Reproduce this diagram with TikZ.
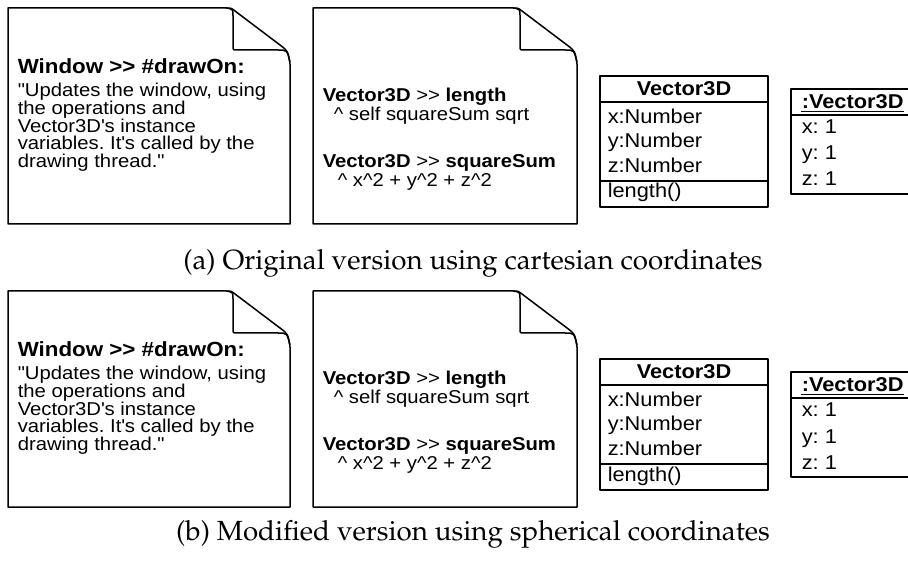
\documentclass[tikz,border=0pt]{standalone}
\usepackage[T1,TU]{fontenc}
\usepackage{fontspec}
\usepackage{tikz}
\usetikzlibrary{positioning, calc}

\newfontfamily\diafont[FakeStretch=1.09,Ligatures=TeXOff]{Liberation Sans}
\setlength{\lineskiplimit}{-10pt}
\frenchspacing

\begin{document}
\begin{tikzpicture}[x=1pt, y=-1pt, line width=1.5pt, line join=round,
        notetitle/.style={anchor=base west, inner sep=0pt,
            font=\diafont\bfseries\fontsize{20.5}{24}\selectfont},
        notetext/.style={anchor=north west, inner sep=0pt, align=left,
            font=\diafont\fontsize{18.6}{17.7}\selectfont},
        codetext/.style={notetext,
            font=\diafont\fontsize{18.6}{19}\selectfont},
        classtext/.style={anchor=base west, inner sep=0pt,
            font=\diafont\fontsize{20}{24}\selectfont},
        classtitle/.style={classtext, anchor=base},
        captiontext/.style={anchor=base, inner sep=0pt,
            font=\fontencoding{T1}\fontfamily{ppl}\fontsize{27.7}{34}\selectfont}]

        % page, the object box runs over the right border
        \path[use as bounding box, clip] (0,0) rectangle (908,561);

        \foreach \dy/\cy/\name/\captxt in {0/270/a/{(a) Original version using cartesian coordinates},
                283/540/b/{(b) Modified version using spherical coordinates}}
        {
            % note sheets with turned down corner
            \foreach \x/\w in {8/282, 313/264}
            {
                \begin{scope}[shift={(\x+\w,\dy+8)}]
                    \draw (-64,0) -- (-\w,0) -- (-\w,216) -- (0,216) -- (0,56)
                        .. controls (-2,43) .. (-10,37) -- (-55,3) .. controls (-59,0) .. (-64,0);
                    \draw (-64,0) .. controls (-57,1) .. (-57,8) -- (-57,38)
                        .. controls (-57,42) .. (-53,42) -- (-12,42) .. controls (-3,42) .. (0,54);
                \end{scope}
            }

            % note texts
            \node[notetitle] (win-\name) at (17,\dy+73.3) {Window >> \#drawOn:};
            \node[notetext] (upd-\name) at (17,\dy+82.4)
                {"Updates the window, using\\the operations and\\Vector3D\textquotesingle s instance\\variables. It\textquotesingle s called by the\\drawing thread."};
            \node[codetext] (len-\name) at (322,\dy+87.4)
                {\textbf{Vector3D} >> \textbf{length}\\\hspace{11pt}\textasciicircum{} self squareSum sqrt};
            \node[codetext] (sum-\name) at (322,\dy+153.4)
                {\textbf{Vector3D} >> \textbf{squareSum}\\\hspace{15pt}\textasciicircum{} x\textasciicircum{}2 + y\textasciicircum{}2 + z\textasciicircum{}2};

            % class box
            \draw (600,\dy+76) rectangle (768,\dy+207);
            \draw (600,\dy+102) -- (768,\dy+102);
            \draw (600,\dy+181) -- (768,\dy+181);
            \node[classtitle] (cls-\name) at (684,\dy+96) {\textbf{Vector3D}};
            \foreach \var/\row in {x/1,y/2,z/3}
                \node[classtext] (attr\var-\name) at (607,\dy+98.5+24.7*\row) {\var:Number};
            \node[classtext] (op-\name) at (607,\dy+198) {length()};

            % object box
            \draw (791,\dy+89) rectangle (915,\dy+194);
            \draw (791,\dy+115) -- (915,\dy+115);
            \node[classtext] (obj-\name) at (801,\dy+108.5) {\textbf{:Vector3D}};
            \draw ([yshift=-3pt]obj-\name.base west) -- ([yshift=-3pt]obj-\name.base east);
            \foreach \var/\row in {x/1,y/2,z/3}
                \node[classtext] (val\var-\name) at (801,\dy+108+26*\row) {\var: 1};

            % caption
            \node[captiontext] (cap-\name) at (473,\cy) {\captxt};
        }
\end{tikzpicture}
\end{document}
